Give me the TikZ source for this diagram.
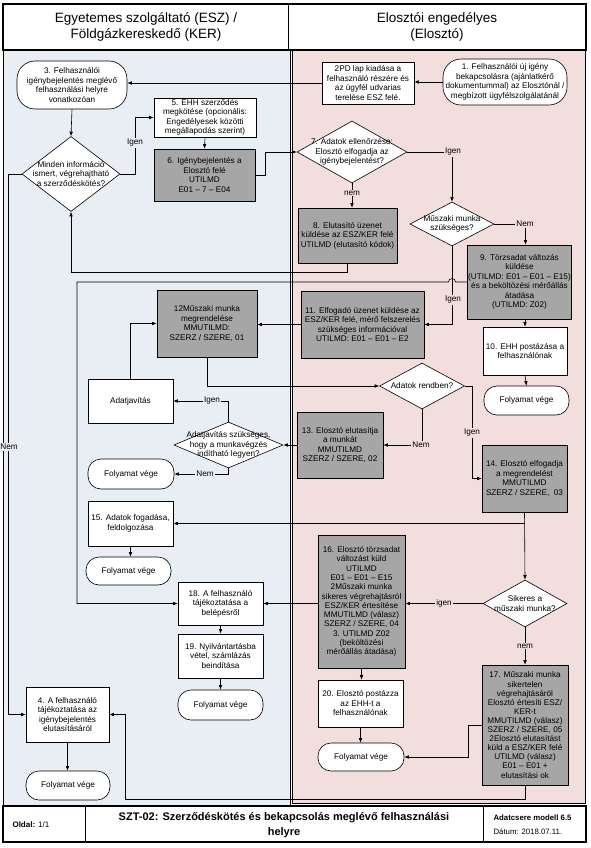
\documentclass[tikz,border=0pt]{standalone}
\usepackage{fontspec}
\setmainfont{Liberation Sans}
\usetikzlibrary{arrows.meta,shapes.geometric}
\definecolor{leftbg}{RGB}{233,237,244}
\definecolor{rightbg}{RGB}{241,222,221}
\definecolor{boxgray}{RGB}{166,166,166}
\tikzset{
  base/.style={draw, line width=0.6pt, align=center, inner sep=1pt,
    font=\fontsize{8.2}{9.5}\selectfont},
  proc/.style={base, rectangle, fill=white},
  gproc/.style={base, rectangle, fill=boxgray},
  term/.style={base, rectangle, fill=white, rounded corners=13pt},
  bigterm/.style={base, rectangle, fill=white, rounded corners=18pt},
  dec/.style={draw, line width=0.6pt, diamond, fill=white, inner sep=0pt},
  dtxt/.style={align=center, inner sep=0pt, font=\fontsize{8.2}{9.5}\selectfont},
  arr/.style={line width=0.6pt, -{Latex[length=4.5pt,width=3.6pt]}},
  lbl/.style={inner sep=1pt, font=\fontsize{8.2}{9.5}\selectfont},
  lblL/.style={lbl, fill=leftbg},
  lblR/.style={lbl, fill=rightbg},
}
\begin{document}
\begin{tikzpicture}[x=1pt,y=-1pt]
\useasboundingbox (0,0) rectangle (590,848);
% pools
\draw[fill=leftbg, line width=1pt] (3,50) rectangle (290,806);
\draw[fill=rightbg, line width=0.6pt] (292,48) rectangle (585,803);
% header
\draw[fill=white, line width=2pt] (3,4) rectangle (586,50);
\draw[line width=1pt] (288,4) -- (288,50);
\node[font=\fontsize{13.5}{16}\selectfont, align=center] (hl) at (146,27) {Egyetemes szolgáltató (ESZ) /\\Földgázkereskedő (KER)};
\node[font=\fontsize{13.5}{16}\selectfont, align=center] (hr) at (437,27) {Elosztói engedélyes\\(Elosztó)};
% footer
\draw[fill=white, line width=2pt] (3,806) rectangle (586,842);
\draw[line width=1pt] (85,806) -- (85,842);
\draw[line width=1pt] (483,806) -- (483,842);
\node[anchor=west, font=\fontsize{8}{9.5}\selectfont] (pg) at (9,825) {\textbf{Oldal:} 1/1};
\node[align=center, font=\bfseries\fontsize{11}{15.5}\selectfont] (title) at (284,825) {SZT-02: Szerződéskötés és bekapcsolás meglévő felhasználási\\helyre};
\node[anchor=west, align=left, font=\fontsize{7.8}{14}\selectfont] (ver) at (490,825) {\textbf{Adatcsere modell 6.5}\\Dátum: 2018.07.11.};

% nodes
\node[bigterm, minimum width=124pt, minimum height=46pt] (b1) at (505,82) {1. Felhasználói új igény\\bekapcsolásra (ajánlatkérő\\dokumentummal) az Elosztónál /\\megbízott ügyfélszolgálatánál};
\node[proc, minimum width=92pt, minimum height=42pt] (b2) at (368,83) {2PD lap kiadása a\\felhasználó részére és\\az ügyfél udvarias\\terelése ESZ felé.};
\node[bigterm, minimum width=110pt, minimum height=48pt] (b3) at (72,85) {3. Felhasználói\\igénybejelentés meglévő\\felhasználási helyre\\vonatkozóan};
\node[dec, minimum width=98pt, minimum height=75pt] (d1) at (71,174) {};
\node[dtxt] (d1t) at (d1.center) {Minden információ\\ismert, végrehajtható\\a szerződéskötés?};
\node[proc, minimum width=102pt, minimum height=39pt] (b5) at (205,117.5) {5. EHH szerződés\\megkötése (opcionális:\\Engedélyesek közötti\\megállapodás szerint)};
\node[gproc, minimum width=101pt, minimum height=52pt] (b6) at (204.5,175) {6. Igénybejelentés a\\Elosztó felé\\UTILMD\\E01 – 7 – E04};
\node[dec, minimum width=110pt, minimum height=62pt] (d7) at (352,152) {};
\node[dtxt] (d7t) at (d7.center) {7. Adatok ellenőrzése:\\Elosztó elfogadja az\\igénybejelentést?};
\node[gproc, minimum width=99pt, minimum height=55pt] (b8) at (347.5,235.5) {8. Elutasító üzenet\\küldése az ESZ/KER felé\\UTILMD (elutasító kódok)};
\node[dec, minimum width=84pt, minimum height=44pt] (d8) at (452,224) {};
\node[dtxt] (d8t) at (d8.center) {Műszaki munka\\szükséges?};
\node[gproc, minimum width=95pt, minimum height=74pt] (b9) at (519.5,282) {9. Törzsadat változás\\küldése\\(UTILMD: E01 – E01 – E15)\\és a beköltözési mérőállás\\átadása\\(UTILMD: Z02)};
\node[proc, minimum width=84pt, minimum height=48pt] (b10) at (525,351) {10. EHH postázása a\\felhasználónak};
\node[term, minimum width=85pt, minimum height=29pt] (e10) at (526.5,400.5) {Folyamat vége};
\node[gproc, minimum width=123pt, minimum height=67pt] (b11) at (362.5,324.5) {11. Elfogadó üzenet küldése az\\ESZ/KER felé, mérő felszerelés\\szükséges információval\\UTILMD: E01 – E01 – E2};
\node[gproc, minimum width=100pt, minimum height=67pt] (b12) at (207,323.5) {12Műszaki munka\\megrendelése\\MMUTILMD:\\SZERZ / SZERE, 01};
\node[dec, minimum width=85pt, minimum height=46pt] (d9) at (422,386) {};
\node[dtxt] (d9t) at (d9.center) {Adatok rendben?};
\node[proc, minimum width=85pt, minimum height=44pt] (bA) at (130.5,401) {Adatjavítás};
\node[dec, minimum width=109pt, minimum height=46pt] (d10) at (228.5,445) {};
\node[dtxt] (d10t) at (d10.center) {Adatjavítás szükséges,\\hogy a munkavégzés\\indítható legyen?};
\node[term, minimum width=86pt, minimum height=30pt] (e1) at (131,474) {Folyamat vége};
\node[gproc, minimum width=86pt, minimum height=66pt] (b13) at (340,445) {13. Elosztó elutasítja\\a munkát\\MMUTILMD\\SZERZ / SZERE, 02};
\node[gproc, minimum width=85pt, minimum height=67pt] (b14) at (524.5,478.5) {14. Elosztó elfogadja\\a megrendelést\\MMUTILMD\\SZERZ / SZERE,~~03};
\node[proc, minimum width=85pt, minimum height=45pt] (b15) at (130.5,523.5) {15. Adatok fogadása,\\feldolgozása};
\node[term, minimum width=85pt, minimum height=28pt] (e2) at (128.5,571) {Folyamat vége};
\node[dec, minimum width=84pt, minimum height=47pt] (d11) at (525,603.5) {};
\node[dtxt] (d11t) at (d11.center) {Sikeres a\\műszaki munka?};
\node[gproc, minimum width=87pt, minimum height=133pt, font=\fontsize{8.2}{9.3}\selectfont] (b16) at (361.5,601.5) {16. Elosztó törzsadat\\változást küld\\UTILMD\\E01 – E01 – E15\\2Műszaki munka\\sikeres végrehajtásról\\ESZ/KER értesítése\\MMUTILMD (válasz)\\SZERZ / SZERE, 04\\3. UTILMD Z02\\(beköltözési\\mérőállás átadása)};
\node[proc, minimum width=85pt, minimum height=43pt] (b18) at (220.5,603.5) {18. A felhasználó\\tájékoztatása a\\belépésről};
\node[proc, minimum width=85pt, minimum height=44pt] (b19) at (220.5,656) {19. Nyilvántartásba\\vétel, számlázás\\beindítása};
\node[term, minimum width=85pt, minimum height=30pt] (e3) at (220.5,705) {Folyamat vége};
\node[proc, minimum width=83pt, minimum height=55pt] (b4) at (67.5,714.5) {4. A felhasználó\\tájékoztatása az\\igénybejelentés\\elutasításáról};
\node[term, minimum width=84pt, minimum height=29pt] (e4) at (68,785.5) {Folyamat vége};
\node[proc, minimum width=85pt, minimum height=47pt] (b20) at (360.5,703.5) {20. Elosztó postázza\\az EHH-t a\\felhasználónak};
\node[term, minimum width=86pt, minimum height=28pt] (e5) at (361,757) {Folyamat vége};
\node[gproc, minimum width=86pt, minimum height=120pt, font=\fontsize{8.2}{9.1}\selectfont] (b17) at (525,725) {17. Műszaki munka\\sikertelen\\végrehajtásáról\\Elosztó értesíti ESZ/\\KER-t\\MMUTILMD (válasz)\\SZERZ / SZERE, 05\\2Elosztó elutasítást\\küld a ESZ/KER felé\\UTILMD (válasz)\\E01 – E01 +\\elutasítási ok};

% connectors
\draw[arr] (b1.west) -- (b2.east |- b1.west);
\draw[arr] (b2.west) -- (b3.east |- b2.west);
\draw[arr] (b3.south) -- (d1.north);
\draw[arr] (d1.east) -- (135,174) |- (b5.west);
\draw[arr] (b5.south) -- (b6.north);
\draw[arr] (b6.east) -- (265,175) |- (d7.west);
\draw[arr] (d7.east) -| (d8.north);
\draw[arr] (d7.south) -- (d7.south |- b8.north);
\draw[arr] (b8.south) -- (347.5,272) -| (d1.south);
\draw[arr] (d1.west) -- (8,174) |- (b4.west);
\draw[arr] (d8.east) -| ([xshift=6pt]b9.north);
\draw[arr] (d8.south) |- (b11.east);
\draw[arr] (b10.north |- b9.south) -- (b10.north);
\draw[arr] (b10.south) -- (e10.north);
\draw[arr] (b9.west) -- (455.5,282) arc[start angle=0, end angle=180, radius=3.5pt] -- (77,282) |- (b18.west);
\draw[arr] (b11.west) -- (b12.east |- b11.west);
\draw[arr] (b12.south) |- (d9.west);
\draw[arr] (d9.east) -- (472,386) |- (b14.west);
\draw[arr] (d9.south) |- (b13.east);
\draw[arr] (b13.west) -- (d10.east);
\draw[arr] (d10.north) |- (bA.east);
\draw[arr] (d10.south) |- (e1.east);
\draw[arr] (bA.north) |- (b12.west);
\draw[arr] (b14.south) -- (d11.north);
\draw[arr] (b14.south |- b15.east) -- (b15.east);
\draw[arr] (b15.south) -- (b15.south |- e2.north);
\draw[arr] (d11.west) -- (b16.east |- d11.west);
\draw[arr] (d11.south) -- (b17.north);
\draw[arr] (b16.west |- b18.east) -- (b18.east);
\draw[arr] (b16.south) -- (b16.south |- b20.north);
\draw[arr] (b20.south) -- (b20.south |- e5.north);
\draw[arr] (b17.west) -- (468,725) |- (e5.east);
\draw[arr] (b17.south) |- (125,799) |- (b4.east);
\draw[arr] (b18.south) -- (b19.north);
\draw[arr] (b19.south) -- (e3.north);
\draw[arr] (b4.south) -- (b4.south |- e4.north);

% labels
\node[lblL] (l1) at (135,143) {Igen};
\node[lblR] (l2) at (453,152) {Igen};
\node[lblR] (l3) at (352,193) {nem};
\node[lblL] (l4) at (9,447) {Nem};
\node[lblR] (l5) at (525,224) {Nem};
\node[lblR] (l6) at (453,300) {Igen};
\node[lblL] (l7) at (212,401) {Igen};
\node[lblL] (l8) at (205,474) {Nem};
\node[lblR] (l9) at (421,445) {Nem};
\node[lblR] (l10) at (472,433) {Igen};
\node[lblR] (l11) at (444,603.5) {igen};
\node[lblR] (l12) at (525,646) {nem};
\end{tikzpicture}
\end{document}
